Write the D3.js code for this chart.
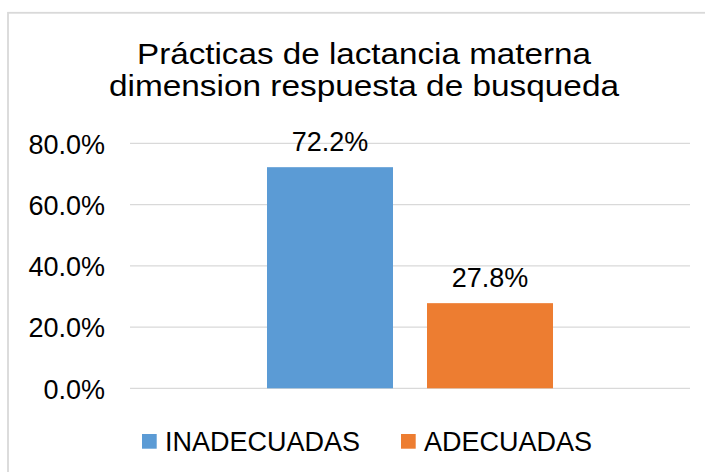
<!DOCTYPE html>
<html>
<head>
<meta charset="utf-8">
<script src="https://cdn.jsdelivr.net/npm/d3@7"></script>
<style>
  html, body { margin: 0; padding: 0; background: #fff; }
  svg { display: block; font-family: "Liberation Sans", Arial, sans-serif; }
</style>
</head>
<body>
<svg id="chart" width="705" height="472"></svg>
<script>
const titleLines = ["Prácticas de lactancia materna", "dimension respuesta de busqueda"];
const categories = [""];
const seriesNames = ["INADECUADAS", "ADECUADAS"];
const seriesValues = [0.722, 0.278];
const seriesColors = ["#5B9BD5", "#ED7D31"];
const yTicks = [0, 0.2, 0.4, 0.6, 0.8];

const svg = d3.select("#chart");
const W = 705, H = 472;

// marco del gráfico
svg.append("rect")
  .attr("x", 8).attr("y", 12.8)
  .attr("width", W).attr("height", H)
  .attr("fill", "#fff")
  .attr("stroke", "#d9d9d9")
  .attr("stroke-width", 1.8);

// título (Arial algo más ancho en la imagen original)
const titleWidths = [454, 510];
svg.append("g")
  .selectAll("text")
  .data(titleLines)
  .join("text")
  .attr("x", 364)
  .attr("y", (d, i) => 63.5 + i * 32.5)
  .attr("text-anchor", "middle")
  .attr("font-size", 29)
  .attr("textLength", (d, i) => titleWidths[i])
  .attr("lengthAdjust", "spacingAndGlyphs")
  .attr("fill", "#000")
  .text(d => d);

const left = 130, right = 690;
const y = d3.scaleLinear().domain([0, 0.8]).range([388.3, 143.3]);

const x0 = d3.scaleBand().domain(categories).range([left, right])
  .paddingInner(0).paddingOuter(0.479);
const x1 = d3.scaleBand().domain(seriesNames).range([0, x0.bandwidth()])
  .paddingInner(0.2125).paddingOuter(0);

// líneas de cuadrícula
svg.append("g")
  .selectAll("line")
  .data(yTicks)
  .join("line")
  .attr("x1", left).attr("x2", right)
  .attr("y1", d => y(d)).attr("y2", d => y(d))
  .attr("stroke", "#d9d9d9")
  .attr("stroke-width", 1.3);

// eje y
const yAxis = d3.axisLeft(y).tickValues(yTicks).tickFormat(d3.format(".1%")).tickSize(0).tickPadding(0);
svg.append("g")
  .attr("transform", `translate(105,0)`)
  .call(yAxis)
  .call(g => g.select(".domain").remove())
  .call(g => g.selectAll("text")
    .attr("font-family", "Liberation Sans, Arial, sans-serif")
    .attr("font-size", 27)
    .attr("dy", "0.36em")
    .attr("fill", "#000"));

// barras
const bars = svg.append("g")
  .selectAll("g")
  .data(categories)
  .join("g")
  .attr("transform", d => `translate(${x0(d)},0)`);

bars.selectAll("rect")
  .data(seriesNames.map((s, i) => ({ s, v: seriesValues[i], c: seriesColors[i] })))
  .join("rect")
  .attr("x", d => x1(d.s))
  .attr("y", d => y(d.v))
  .attr("width", x1.bandwidth())
  .attr("height", d => y(0) - y(d.v))
  .attr("fill", d => d.c);

// etiquetas de datos
bars.selectAll("text")
  .data(seriesNames.map((s, i) => ({ s, v: seriesValues[i] })))
  .join("text")
  .attr("x", d => x1(d.s) + x1.bandwidth() / 2)
  .attr("y", d => y(d.v) - 16.5)
  .attr("text-anchor", "middle")
  .attr("font-size", 27)
  .attr("fill", "#000")
  .text(d => d3.format(".1%")(d.v));

// leyenda
const legendX = [142, 401];
const legend = svg.append("g")
  .selectAll("g")
  .data(seriesNames)
  .join("g")
  .attr("transform", (d, i) => `translate(${legendX[i]},434)`);

legend.append("rect")
  .attr("width", 14.7).attr("height", 14.7)
  .attr("fill", (d, i) => seriesColors[i]);

legend.append("text")
  .attr("x", 23)
  .attr("y", 17)
  .attr("font-size", 27)
  .attr("fill", "#000")
  .text(d => d);
</script>
</body>
</html>
